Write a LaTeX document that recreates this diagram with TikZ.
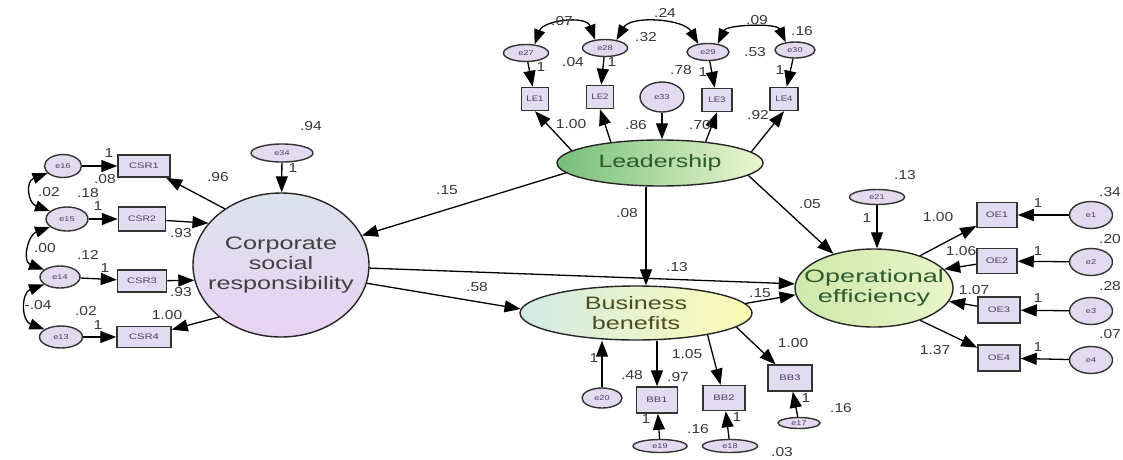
\documentclass[tikz,border=0pt]{standalone}
\usepackage{fontspec}
\setmainfont{Liberation Sans}
\usetikzlibrary{shapes.geometric,arrows.meta}
\definecolor{leadL}{RGB}{118,190,122}
\definecolor{leadR}{RGB}{234,247,208}
\definecolor{csrTop}{RGB}{220,226,238}
\definecolor{csrBot}{RGB}{232,210,242}
\definecolor{bbL}{RGB}{210,234,230}
\definecolor{bbR}{RGB}{253,252,182}
\definecolor{oeL}{RGB}{206,232,170}
\definecolor{oeR}{RGB}{232,245,200}
\definecolor{boxfill}{RGB}{226,220,240}
\definecolor{errfill}{RGB}{228,218,240}
\definecolor{boxtext}{RGB}{74,63,102}
\newcommand\myxs[2]{\scalebox{#1}[1]{#2}}
\tikzset{
  lat/.style={ellipse, draw=black!85, line width=1.4pt, inner sep=0pt},
  lattext/.style={inner sep=0pt, align=center, font=\fontsize{18}{20}\selectfont},
  ind/.style={rectangle, draw=black!80, line width=1.5pt, fill=boxfill, inner sep=0pt, font=\fontsize{8}{8}\selectfont, text=boxtext},
  err/.style={ellipse, draw=black!80, line width=1.4pt, fill=errfill, inner sep=0pt, font=\fontsize{7}{7}\selectfont, text=boxtext},
  lbl/.style={inner sep=0pt, font=\fontsize{13}{13}\selectfont, text=black!78},
  arr/.style={-{Triangle[length=16pt,width=12pt]}, line width=1.3pt},
  cov/.style={{Triangle[length=15pt,width=11pt]}-{Triangle[length=15pt,width=11pt]}, line width=1.3pt}
}
\begin{document}
\begin{tikzpicture}[x=1pt,y=-1pt]
\fill[white] (0,0) rectangle (1123,459);
\useasboundingbox (0,0) rectangle (1123,459);
% latent variables
\node[lat, minimum width=206pt, minimum height=46pt, left color=leadL, right color=leadR] (lead) at (660,163) {};
\node[lattext, text={rgb,255:red,43;green,90;blue,43}] (leadT) at (660,163) {\myxs{1.38}{Leadership}};
\node[lat, minimum width=176pt, minimum height=144pt, top color=csrTop, bottom color=csrBot] (csr) at (281,265) {};
\node[lattext, text=black!75] (csrT) at (281,265) {\myxs{1.4}{Corporate}\\\myxs{1.4}{social}\\\myxs{1.4}{responsibility}};
\node[lat, minimum width=232pt, minimum height=54pt, left color=bbL, right color=bbR] (bb) at (636,313) {};
\node[lattext, text={rgb,255:red,77;green,77;blue,31}] (bbT) at (636,313) {\myxs{1.4}{Business}\\\myxs{1.4}{benefits}};
\node[lat, minimum width=158pt, minimum height=78pt, left color=oeL, right color=oeR] (oe) at (874,288) {};
\node[lattext, text={rgb,255:red,47;green,90;blue,47}] (oeT) at (874,288) {\myxs{1.5}{Operational}\\\myxs{1.5}{efficiency}};
% indicators
\node[ind, minimum width=27pt, minimum height=23pt] (LE1) at (535,99) {\myxs{1.2}{LE1}};
\node[ind, minimum width=27pt, minimum height=23pt] (LE2) at (600,97) {\myxs{1.2}{LE2}};
\node[ind, minimum width=30pt, minimum height=23pt] (LE3) at (717,100) {\myxs{1.2}{LE3}};
\node[ind, minimum width=28pt, minimum height=23pt] (LE4) at (784,99) {\myxs{1.2}{LE4}};
\node[ind, minimum width=52pt, minimum height=22pt] (CSR1) at (144,166) {\myxs{1.4}{CSR1}};
\node[ind, minimum width=47pt, minimum height=24pt] (CSR2) at (142,219) {\myxs{1.3}{CSR2}};
\node[ind, minimum width=49pt, minimum height=22pt] (CSR3) at (142,281) {\myxs{1.4}{CSR3}};
\node[ind, minimum width=54pt, minimum height=21pt] (CSR4) at (144,337) {\myxs{1.4}{CSR4}};
\node[ind, minimum width=40pt, minimum height=25pt] (OE1) at (997,215) {\myxs{1.4}{OE1}};
\node[ind, minimum width=40pt, minimum height=25pt] (OE2) at (997,261) {\myxs{1.4}{OE2}};
\node[ind, minimum width=42pt, minimum height=26pt] (OE3) at (999,310) {\myxs{1.4}{OE3}};
\node[ind, minimum width=42pt, minimum height=26pt] (OE4) at (999,358) {\myxs{1.4}{OE4}};
\node[ind, minimum width=41pt, minimum height=26pt] (BB1) at (657,400) {\myxs{1.4}{BB1}};
\node[ind, minimum width=42pt, minimum height=25pt] (BB2) at (724,398) {\myxs{1.4}{BB2}};
\node[ind, minimum width=44pt, minimum height=26pt] (BB3) at (790,378) {\myxs{1.4}{BB3}};
% error terms
\node[err, minimum width=45pt, minimum height=17pt] (e27) at (526,53) {\myxs{1.3}{e27}};
\node[err, minimum width=45pt, minimum height=17pt] (e28) at (605,48) {\myxs{1.3}{e28}};
\node[err, minimum width=42pt, minimum height=17pt] (e29) at (708,52) {\myxs{1.3}{e29}};
\node[err, minimum width=40pt, minimum height=16pt] (e30) at (795,50) {\myxs{1.3}{e30}};
\node[err, minimum width=44pt, minimum height=30pt] (e33) at (662,97) {\myxs{1.3}{e33}};
\node[err, minimum width=62pt, minimum height=18pt] (e34) at (282,153) {\myxs{1.3}{e34}};
\node[err, minimum width=37pt, minimum height=23pt] (e16) at (63,166) {\myxs{1.3}{e16}};
\node[err, minimum width=42pt, minimum height=24pt] (e15) at (67,219) {\myxs{1.3}{e15}};
\node[err, minimum width=40pt, minimum height=22pt] (e14) at (60,277) {\myxs{1.3}{e14}};
\node[err, minimum width=43pt, minimum height=22pt] (e13) at (61,337) {\myxs{1.3}{e13}};
\node[err, minimum width=55pt, minimum height=15pt] (e21) at (877,197) {\myxs{1.3}{e21}};
\node[err, minimum width=43pt, minimum height=27pt] (e1) at (1091,215) {\myxs{1.3}{e1}};
\node[err, minimum width=43pt, minimum height=27pt] (e2) at (1091,262) {\myxs{1.3}{e2}};
\node[err, minimum width=43pt, minimum height=27pt] (e3) at (1091,311) {\myxs{1.3}{e3}};
\node[err, minimum width=43pt, minimum height=27pt] (e4) at (1091,360) {\myxs{1.3}{e4}};
\node[err, minimum width=40pt, minimum height=20pt] (e20) at (602,398) {\myxs{1.3}{e20}};
\node[err, minimum width=54pt, minimum height=13pt] (e19) at (660,446) {\myxs{1.3}{e19}};
\node[err, minimum width=55pt, minimum height=13pt] (e18) at (730,446) {\myxs{1.3}{e18}};
\node[err, minimum width=42pt, minimum height=11pt] (e17) at (799,423) {\myxs{1.3}{e17}};
% structural paths
\draw[arr] (lead.186) -- (csr.20);
\draw[arr] ([xshift=-14pt]lead.south) -- ([xshift=10pt]bb.north);
\draw[arr] (lead.-8) -- (oe.140);
\draw[arr] (csr.-2) -- (oe.177);
\draw[arr] (csr.-12) -- (bb.178);
\draw[arr] (bb.5) -- (oe.185);
\draw[arr] (e33) -- (e33 |- lead.north);
\draw[arr] (e34) -- (csr);
\draw[arr] (e21) -- (e21 |- oe.north);
\draw[arr] (e20) -- (e20 |- bb.south);
% leadership measurement
\draw[arr] (lead.172) -- (LE1.south);
\draw[arr] (lead.157) -- (LE2.south);
\draw[arr] (lead.25) -- (LE3.south);
\draw[arr] (lead.7) -- (LE4.south);
\draw[arr] (e27) -- (LE1);
\draw[arr] (e28) -- (LE2);
\draw[arr] (e29) -- (LE3);
\draw[arr] (e30) -- (LE4);
\draw[cov] (e27.45) to[out=70,in=110,looseness=1.1] (e28.140);
\draw[cov] (e28.35) to[out=60,in=120,looseness=0.9] (e29.140);
\draw[cov] (e29.40) to[out=65,in=115,looseness=0.8] (e30.140);
% CSR measurement
\draw[arr] (csr.135) -- (CSR1);
\draw[arr] (CSR2) -- (csr.150);
\draw[arr] (CSR3) -- (csr.190);
\draw[arr] (csr.220) -- (CSR4);
\draw[arr] (e16) -- (CSR1);
\draw[arr] (e15) -- (CSR2);
\draw[arr] (e14) -- (CSR3);
\draw[arr] (e13) -- (CSR4);
\draw[cov] (e16.205) to[out=200,in=160,looseness=1.6] (e15.155);
\draw[cov] (e15.205) to[out=200,in=160,looseness=1.4] (e14.155);
\draw[cov] (e14.205) to[out=200,in=160,looseness=1.4] (e13.155);
% OE measurement
\draw[arr] (oe.35) -- (OE1);
\draw[arr] (OE2) -- (oe.15);
\draw[arr] (OE3) -- (oe.-10);
\draw[arr] (oe.-35) -- (OE4);
\draw[arr] (e1) -- (OE1);
\draw[arr] (e2) -- (OE2);
\draw[arr] (e3) -- (OE3);
\draw[arr] (e4) -- (OE4);
% BB measurement
\draw[arr] (bb.south -| BB1.north) -- (BB1.north);
\draw[arr] (bb.-17) -- (BB2);
\draw[arr] (bb.-8) -- (BB3);
\draw[arr] (e19) -- (BB1);
\draw[arr] (e18) -- (BB2);
\draw[arr] (e17) -- (BB3);
% labels: top
\node[lbl] (l1) at (562,21) {\myxs{1.2}{.07}};
\node[lbl] (l2) at (665,13) {\myxs{1.2}{.24}};
\node[lbl] (l3) at (757,20) {\myxs{1.2}{.09}};
\node[lbl] (l4) at (802,31) {\myxs{1.2}{.16}};
\node[lbl] (l5) at (646,37) {\myxs{1.2}{.32}};
\node[lbl] (l6) at (573,62) {\myxs{1.2}{.04}};
\node[lbl] (l7) at (541,67) {\myxs{1.2}{1}};
\node[lbl] (l8) at (612,62) {\myxs{1.2}{1}};
\node[lbl] (l9) at (681,70) {\myxs{1.2}{.78}};
\node[lbl] (l10) at (703,72) {\myxs{1.2}{1}};
\node[lbl] (l11) at (755,52) {\myxs{1.2}{.53}};
\node[lbl] (l12) at (780,70) {\myxs{1.2}{1}};
\node[lbl] (l13) at (571,124) {\myxs{1.2}{1.00}};
\node[lbl] (l14) at (636,125) {\myxs{1.2}{.86}};
\node[lbl] (l15) at (700,125) {\myxs{1.2}{.70}};
\node[lbl] (l16) at (758,115) {\myxs{1.2}{.92}};
% labels: CSR side
\node[lbl] (l17) at (311,126) {\myxs{1.2}{.94}};
\node[lbl] (l18) at (293,168) {\myxs{1.2}{1}};
\node[lbl] (l19) at (218,177) {\myxs{1.2}{.96}};
\node[lbl] (l20) at (447,190) {\myxs{1.2}{.15}};
\node[lbl] (l21) at (181,233) {\myxs{1.2}{.93}};
\node[lbl] (l22) at (181,292) {\myxs{1.2}{.93}};
\node[lbl] (l23) at (167,315) {\myxs{1.2}{1.00}};
\node[lbl] (l24) at (109,153) {\myxs{1.2}{1}};
\node[lbl] (l25) at (105,179) {\myxs{1.2}{.08}};
\node[lbl] (l26) at (49,192) {\myxs{1.2}{.02}};
\node[lbl] (l27) at (88,193) {\myxs{1.2}{.18}};
\node[lbl] (l28) at (98,206) {\myxs{1.2}{1}};
\node[lbl] (l29) at (45,248) {\myxs{1.2}{.00}};
\node[lbl] (l30) at (88,255) {\myxs{1.2}{.12}};
\node[lbl] (l31) at (105,268) {\myxs{1.2}{1}};
\node[lbl] (l32) at (38,305) {\myxs{1.2}{-.04}};
\node[lbl] (l33) at (86,311) {\myxs{1.2}{.02}};
\node[lbl] (l34) at (98,325) {\myxs{1.2}{1}};
% labels: middle
\node[lbl] (l35) at (627,213) {\myxs{1.2}{.08}};
\node[lbl] (l36) at (677,267) {\myxs{1.2}{.13}};
\node[lbl] (l37) at (477,287) {\myxs{1.2}{.58}};
\node[lbl] (l38) at (760,293) {\myxs{1.2}{.15}};
\node[lbl] (l39) at (810,204) {\myxs{1.2}{.05}};
\node[lbl] (l40) at (905,175) {\myxs{1.2}{.13}};
\node[lbl] (l41) at (867,218) {\myxs{1.2}{1}};
% labels: OE side
\node[lbl] (l42) at (938,217) {\myxs{1.2}{1.00}};
\node[lbl] (l43) at (961,251) {\myxs{1.2}{1.06}};
\node[lbl] (l44) at (974,290) {\myxs{1.2}{1.07}};
\node[lbl] (l45) at (935,350) {\myxs{1.2}{1.37}};
\node[lbl] (l46) at (1038,203) {\myxs{1.2}{1}};
\node[lbl] (l47) at (1038,251) {\myxs{1.2}{1}};
\node[lbl] (l48) at (1038,298) {\myxs{1.2}{1}};
\node[lbl] (l49) at (1038,347) {\myxs{1.2}{1}};
\node[lbl] (l50) at (1110,192) {\myxs{1.2}{.34}};
\node[lbl] (l51) at (1110,239) {\myxs{1.2}{.20}};
\node[lbl] (l52) at (1110,286) {\myxs{1.2}{.28}};
\node[lbl] (l53) at (1110,334) {\myxs{1.2}{.07}};
% labels: BB side
\node[lbl] (l54) at (594,358) {\myxs{1.2}{1}};
\node[lbl] (l55) at (632,375) {\myxs{1.2}{.48}};
\node[lbl] (l56) at (678,377) {\myxs{1.2}{.97}};
\node[lbl] (l57) at (687,354) {\myxs{1.2}{1.05}};
\node[lbl] (l58) at (793,343) {\myxs{1.2}{1.00}};
\node[lbl] (l59) at (646,419) {\myxs{1.2}{1}};
\node[lbl] (l60) at (698,429) {\myxs{1.2}{.16}};
\node[lbl] (l61) at (737,417) {\myxs{1.2}{1}};
\node[lbl] (l62) at (806,398) {\myxs{1.2}{1}};
\node[lbl] (l63) at (841,408) {\myxs{1.2}{.16}};
\node[lbl] (l64) at (782,452) {\myxs{1.2}{.03}};
\end{tikzpicture}
\end{document}
